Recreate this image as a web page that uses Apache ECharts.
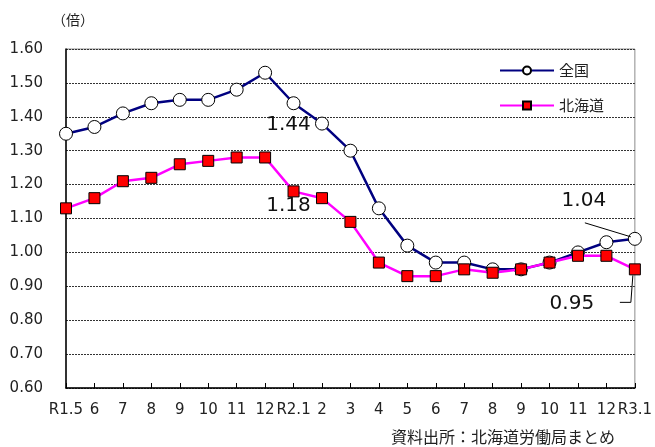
<!DOCTYPE html>
<html>
<head>
<meta charset="utf-8">
<script src="https://cdn.jsdelivr.net/npm/echarts@6/dist/echarts.min.js"></script>
<style>html,body{margin:0;padding:0;background:#fff;}#c{width:655px;height:447px;}</style>
</head>
<body>
<div id="c"></div>
<script>
var categories = ['R1.5','6','7','8','9','10','11','12','R2.1','2','3','4','5','6','7','8','9','10','11','12','R3.1'];
var zenkoku = [1.35,1.37,1.41,1.44,1.45,1.45,1.48,1.53,1.44,1.38,1.30,1.13,1.02,0.97,0.97,0.95,0.95,0.97,1.00,1.03,1.04];
var hokkaido = [1.13,1.16,1.21,1.22,1.26,1.27,1.28,1.28,1.18,1.16,1.09,0.97,0.93,0.93,0.95,0.94,0.95,0.97,0.99,0.99,0.95];
var yTicks = {min: 0.6, max: 1.6, interval: 0.1};
var seriesNames = ['全国','北海道'];
// annotated points: [seriesIndex, dataIndex, dx, dy]
var notes = [[0, 8, -5, 22], [1, 8, -5, 14], [0, 20, -51, -38], [1, 20, -63, 34]];
// leader lines (offsets relative to annotated point): [seriesIndex, dataIndex, [[dx,dy],...]]
var leaders = [[0, 20, [[-4, -2], [-50, -16]]], [1, 20, [[-2, 6], [-4, 33], [-15, 33]]]];

var numFont = '"DejaVu Sans", Verdana, sans-serif';
var cjkFont = '"Noto Sans CJK JP", sans-serif';

function buildData(si, arr) {
  return arr.map(function (v, i) {
    var n = notes.filter(function (t) { return t[0] === si && t[1] === i; })[0];
    if (!n) return v;
    return {
      value: v,
      label: {show: true, position: 'inside', formatter: function (p) { return p.value.toFixed(2); },
        fontFamily: numFont, fontSize: 20, color: '#111'}
    };
  });
}
function layoutFor(si) {
  return function (p) {
    var n = notes.filter(function (t) { return t[0] === si && t[1] === p.dataIndex; })[0];
    if (!n) return {};
    return {dx: n[2], dy: n[3]};
  };
}

var chart = echarts.init(document.getElementById('c'), null, {renderer: 'canvas'});
chart.setOption({
  animation: false,
  backgroundColor: '#fff',
  grid: {left: 66, right: 17, top: 49, bottom: 59, show: true, borderColor: '#8c8c8c', borderWidth: 1},
  legend: {
    orient: 'vertical', left: 494, top: 58, itemWidth: 54, itemHeight: 10, itemGap: 20,
    textStyle: {fontFamily: cjkFont, fontSize: 15, color: '#222'},
    data: seriesNames
  },
  xAxis: {
    type: 'category', data: categories, boundaryGap: false,
    axisLine: {lineStyle: {color: '#000', width: 1.5}},
    axisTick: {show: true, inside: true, length: 5, alignWithLabel: true, lineStyle: {color: '#000'}},
    axisLabel: {interval: 0, margin: 15, fontFamily: numFont, fontSize: 15, color: '#222'},
    splitLine: {show: false}
  },
  yAxis: {
    type: 'value', min: yTicks.min, max: yTicks.max, interval: yTicks.interval,
    name: '（倍）', nameLocation: 'end', nameGap: 22,
    nameTextStyle: {fontFamily: cjkFont, fontSize: 14, color: '#222', align: 'left', padding: [0, 0, 0, -14]},
    axisLine: {show: true, lineStyle: {color: '#000', width: 1.5}},
    axisTick: {show: false},
    axisLabel: {margin: 23, fontFamily: numFont, fontSize: 15, color: '#222', formatter: function (v) { return v.toFixed(2); }},
    splitLine: {show: true, lineStyle: {color: '#333', type: [2, 1], width: 1}}
  },
  series: [
    {
      name: seriesNames[0], type: 'line', data: buildData(0, zenkoku),
      symbol: 'circle', symbolSize: 13,
      lineStyle: {color: '#000080', width: 2.5},
      itemStyle: {color: '#fff', borderColor: '#000', borderWidth: 1},
      labelLayout: layoutFor(0), z: 3
    },
    {
      name: seriesNames[1], type: 'line', data: buildData(1, hokkaido),
      symbol: 'rect', symbolSize: 11,
      lineStyle: {color: '#ff00ff', width: 2.5},
      itemStyle: {color: '#ff0000', borderColor: '#000', borderWidth: 1},
      labelLayout: layoutFor(1), z: 4
    }
  ]
});

var seriesData = [zenkoku, hokkaido];
var lineGraphics = leaders.map(function (l) {
  var p = chart.convertToPixel({seriesIndex: l[0]}, [l[1], seriesData[l[0]][l[1]]]);
  return {
    type: 'polyline', z: 10,
    shape: {points: l[2].map(function (o) { return [p[0] + o[0], p[1] + o[1]]; })},
    style: {stroke: '#000', lineWidth: 1, fill: null}
  };
});
chart.setOption({graphic: [{
  type: 'text', right: 40, top: 429,
  style: {text: '資料出所：北海道労働局まとめ', font: '16px ' + cjkFont, fill: '#222'}
}].concat(lineGraphics)});
</script>
</body>
</html>
